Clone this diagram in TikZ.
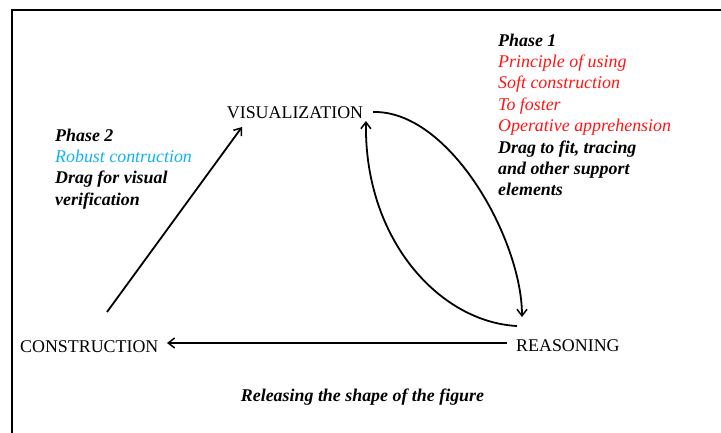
\documentclass[tikz,border=0pt]{standalone}
\usepackage{fontspec}
\setmainfont{Liberation Serif}
\usetikzlibrary{arrows.meta}
\definecolor{phred}{RGB}{255,20,20}
\definecolor{phblue}{RGB}{20,176,240}
\tikzset{
  lbl/.style={inner sep=0pt, font=\fontsize{17.9}{21.4}\selectfont},
  note/.style={inner sep=0pt, align=left, anchor=north west, font=\fontsize{17.9}{21.4}\selectfont\itshape},
  arr/.style={line width=1.8pt, -{Straight Barb[length=6.5pt,width=10pt,line width=1.5pt]}},
  frame/.style={line width=2.5pt}
}
\begin{document}
\begin{tikzpicture}[x=1pt,y=-1pt]
\useasboundingbox (0,0) rectangle (721,432);
\draw[frame] (12,433) -- (12,10) -- (722,10);

\node[lbl, anchor=base] (vis) at (295,118) {VISUALIZATION};
\node[lbl, anchor=base west] (cons) at (20,352) {CONSTRUCTION};
\node[lbl, anchor=base west] (reas) at (516,351) {REASONING};
\node[lbl, anchor=base, font=\fontsize{17.9}{21.4}\selectfont\bfseries\itshape] (rel) at (362.5,401) {Releasing the shape of the figure};

\node[note] (ph1) at (498,33.5) {\textbf{Phase 1}\\
\textcolor{phred}{Principle of using}\\
\textcolor{phred}{Soft construction}\\
\textcolor{phred}{To foster}\\
\textcolor{phred}{Operative apprehension}\\
\textbf{Drag to fit, tracing}\\
\textbf{and other support}\\
\textbf{elements}};

\node[note] (ph2) at (55,128.5) {\textbf{Phase 2}\\
\textcolor{phblue}{Robust contruction}\\
\textbf{Drag for visual}\\
\textbf{verification}};

\coordinate (c1) at (107,312);
\coordinate (v1) at (242,127);
\coordinate (v2) at (373,112);
\coordinate (r1) at (522,317);
\coordinate (r2) at (517,326);
\coordinate (v3) at (366,121);
\coordinate (r3) at (507,343);
\coordinate (c2) at (167,343);

\draw[arr] (c1) -- (v1);
\draw[arr] (v2) .. controls (450,110) and (522,240) .. (r1);
\draw[arr] (r2) .. controls (440,322) and (364,240) .. (v3);
\draw[arr] (r3) -- (c2);
\end{tikzpicture}
\end{document}
